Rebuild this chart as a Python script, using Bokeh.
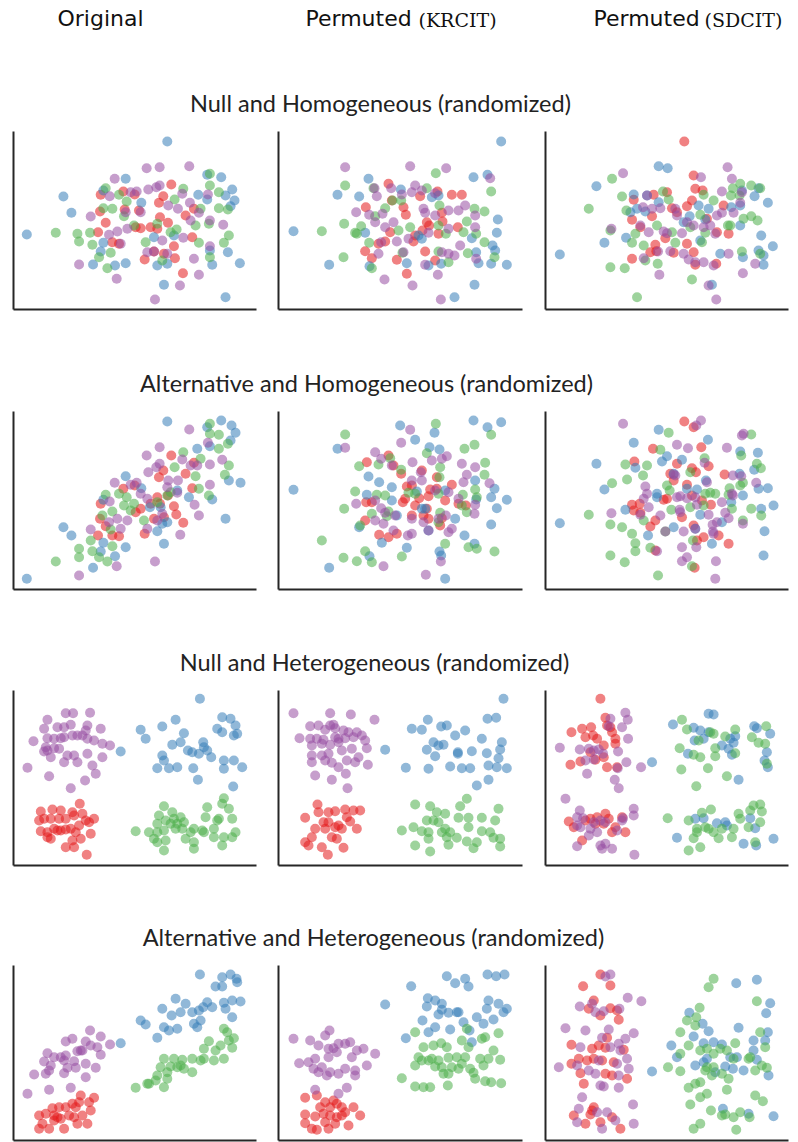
from bokeh.plotting import figure
from bokeh.models import Range1d, Label, FixedTicker
from bokeh.layouts import column, row
from bokeh.embed import file_html
from bokeh.resources import INLINE

# Colour per group (Set1 palette)
COLORS = {"red": "#e41a1c", "blue": "#377eb8", "green": "#4daf4a", "purple": "#984ea3"}
DRAW_ORDER = ["red", "blue", "green", "purple"]

COLUMN_TITLES = ["Original", "Permuted", "Permuted"]
COLUMN_TAGS = ["", "(KRCIT)", "(SDCIT)"]
ROW_TITLES = [
    "Null and Homogeneous (randomized)",
    "Alternative and Homogeneous (randomized)",
    "Null and Heterogeneous (randomized)",
    "Alternative and Heterogeneous (randomized)",
]

# Scatter samples (x, y); y grows downward in these units
NULL_HOM_ORIGINAL = {
    "blue": [(470,48),(345,160),(632,155),(590,148),(158,213),(182,262),(48,327),(563,208),(590,222),(645,210),(665,192),(672,225),(660,242),(392,232),(278,195),(278,352),(270,378),(247,417),(313,420),(345,413),(440,420),(470,415),(460,478),(652,380),(598,375),(605,418),(688,413),(645,515),(430,335),(490,330)],
    "green": [(598,145),(598,180),(625,200),(518,190),(285,188),(325,208),(348,228),(492,222),(570,250),(625,248),(652,252),(595,295),(555,300),(655,330),(640,352),(565,352),(135,322),(200,325),(205,348),(238,322),(245,358),(265,395),(300,382),(290,428),(305,250),(340,272),(440,295),(480,320),(498,312),(405,350),(455,405),(598,395),(278,248),(370,300)],
    "red": [(482,177),(458,212),(445,232),(338,198),(372,207),(270,208),(268,258),(285,292),(262,320),(305,350),(325,355),(375,305),(390,308),(420,305),(440,310),(448,275),(472,292),(525,270),(550,250),(545,335),(490,362),(493,398),(402,402),(460,385),(517,443),(430,378),(342,252),(385,255)],
    "purple": [(408,128),(447,125),(536,122),(312,160),(413,192),(437,185),(447,180),(378,198),(360,200),(297,212),(515,205),(592,207),(473,240),(502,250),(538,232),(565,262),(540,285),(598,285),(638,298),(240,273),(295,328),(320,318),(350,310),(345,260),(390,260),(455,345),(410,380),(430,378),(470,385),(518,337),(550,400),(598,362),(565,448),(508,480),(433,522),(318,460),(205,417),(330,355)],
}

NULL_HOM_KRCIT = {
    "blue": [(678,48),(595,155),(637,148),(280,160),(187,208),(252,213),(377,192),(470,215),(490,210),(668,282),(665,322),(652,360),(660,375),(603,380),(610,413),(648,415),(695,418),(598,478),(538,515),(55,317),(162,418),(283,422),(395,413),(460,420),(498,415),(440,340),(430,330),(590,338),(270,322)],
    "green": [(482,143),(648,198),(210,180),(295,188),(352,225),(378,225),(455,188),(207,295),(140,317),(240,322),(258,302),(245,325),(282,352),(300,272),(330,248),(370,315),(405,305),(382,382),(490,300),(493,240),(512,325),(598,250),(628,258),(575,288),(565,320),(603,325),(628,350),(658,395),(578,383),(520,410),(490,378),(205,395),(290,428)],
    "red": [(340,175),(272,245),(435,212),(487,198),(530,208),(560,208),(385,245),(392,268),(455,290),(462,300),(442,315),(420,330),(415,348),(345,320),(310,355),(330,348),(502,288),(548,305),(490,325),(270,377),(290,398),(365,403),(395,445),(450,378),(480,405),(500,262),(350,225)],
    "purple": [(210,125),(405,122),(513,128),(645,158),(298,188),(305,212),(348,188),(380,207),(420,180),(410,200),(440,195),(480,203),(243,260),(282,268),(322,265),(355,290),(300,290),(330,305),(318,350),(310,385),(365,348),(400,340),(445,250),(450,262),(480,270),(520,255),(570,240),(550,255),(600,270),(600,305),(460,322),(520,310),(555,360),(500,380),(538,390),(520,385),(603,400),(450,418),(488,448),(412,480),(328,462),(497,522),(385,380)],
}

NULL_HOM_SDCIT = {
    "blue": [(355,122),(382,128),(168,182),(280,207),(320,210),(355,230),(270,260),(290,250),(315,258),(475,240),(448,272),(430,290),(505,250),(573,245),(600,240),(643,212),(655,188),(683,232),(600,300),(663,330),(698,362),(655,375),(670,390),(608,395),(670,418),(540,385),(515,478),(480,345),(192,352),(257,337),(58,387),(495,282),(605,195)],
    "green": [(215,160),(145,250),(245,213),(258,255),(368,198),(385,222),(490,208),(520,225),(480,268),(578,188),(600,175),(633,180),(660,188),(572,210),(598,210),(610,280),(633,272),(652,285),(563,300),(570,300),(210,425),(253,428),(210,315),(285,325),(275,352),(310,360),(315,405),(352,415),(350,300),(405,352),(395,320),(455,462),(495,322),(485,350),(605,378),(660,385),(290,515),(450,305)],
    "red": [(432,48),(460,150),(465,190),(487,195),(455,225),(440,242),(550,240),(340,208),(380,200),(395,248),(410,260),(280,223),(275,283),(300,305),(335,272),(375,338),(345,358),(330,380),(400,382),(440,355),(460,380),(465,418),(528,415),(565,325),(530,320),(500,280),(275,400),(348,377)],
    "purple": [(248,143),(482,155),(562,125),(575,160),(545,198),(605,200),(600,232),(320,210),(308,245),(335,250),(360,248),(405,250),(410,270),(440,290),(460,300),(425,323),(370,318),(380,323),(325,320),(300,300),(213,310),(530,270),(545,262),(580,262),(510,300),(525,325),(490,305),(390,377),(430,385),(445,402),(465,410),(490,410),(520,420),(505,480),(528,522),(608,443),(645,415),(565,385),(357,448),(310,398),(353,378)],
}

ALT_HOM_ORIGINAL = {
    "blue": [(470,48),(632,45),(663,60),(675,82),(660,105),(590,65),(598,122),(560,130),(690,232),(655,225),(605,282),(645,340),(345,212),(392,248),(278,283),(418,305),(450,305),(455,355),(440,377),(470,350),(535,275),(460,415),(158,365),(182,390),(278,412),(270,438),(247,487),(313,452),(345,425),(48,520),(500,255)],
    "green": [(598,55),(598,85),(625,88),(652,115),(625,130),(655,180),(643,208),(518,140),(570,160),(555,212),(565,250),(595,270),(492,185),(480,260),(470,270),(285,268),(325,265),(348,275),(340,300),(360,315),(305,318),(275,330),(300,372),(240,405),(205,430),(205,455),(135,468),(245,437),(265,455),(290,468),(305,422),(400,345),(440,290),(370,295)],
    "red": [(482,150),(458,195),(445,215),(525,205),(550,172),(545,248),(338,250),(372,240),(270,295),(268,340),(285,362),(262,390),(305,390),(325,392),(375,320),(390,310),(420,295),(440,275),(448,295),(490,302),(497,327),(518,352),(402,385),(460,335),(430,340),(472,270)],
    "purple": [(408,150),(447,125),(536,72),(592,112),(635,163),(598,177),(515,162),(540,180),(560,180),(437,185),(413,200),(447,175),(312,232),(360,238),(378,232),(297,288),(240,372),(295,350),(320,340),(350,345),(390,265),(410,280),(473,225),(502,225),(470,245),(500,262),(598,238),(552,298),(565,330),(509,388),(455,325),(410,370),(433,468),(318,482),(205,510),(330,370),(440,345)],
}

ALT_HOM_KRCIT = {
    "blue": [(375,60),(478,82),(420,103),(595,45),(637,65),(678,50),(187,130),(463,125),(493,132),(280,213),(312,230),(350,245),(275,268),(350,285),(440,310),(450,310),(425,258),(510,255),(600,225),(603,282),(658,250),(648,275),(665,308),(695,283),(648,357),(252,365),(320,412),(395,427),(493,438),(498,450),(568,390),(598,415),(540,340),(460,375),(162,487),(510,520),(55,253),(283,452),(365,330)],
    "green": [(482,55),(210,87),(648,88),(568,130),(598,118),(455,143),(252,182),(310,177),(345,158),(378,193),(495,185),(493,215),(630,172),(628,208),(600,252),(605,275),(563,268),(575,320),(560,300),(240,258),(305,268),(330,270),(400,262),(420,265),(207,310),(290,325),(340,318),(335,332),(490,265),(490,350),(510,415),(580,425),(605,430),(658,438),(140,405),(205,457),(245,467),(270,437),(290,470),(380,453),(255,360),(495,322)],
    "red": [(340,150),(275,170),(355,180),(378,205),(440,195),(485,215),(530,238),(395,243),(410,240),(390,280),(432,278),(460,272),(465,252),(485,250),(510,285),(550,295),(572,300),(273,290),(290,290),(383,290),(420,300),(410,330),(455,310),(460,340),(445,330),(270,345),(312,388),(340,395),(365,385),(495,360),(500,338)],
    "purple": [(405,73),(378,112),(210,127),(300,140),(318,160),(350,180),(412,170),(437,200),(470,165),(500,160),(515,152),(560,175),(600,185),(575,208),(565,230),(440,225),(410,225),(480,255),(520,260),(550,280),(600,298),(598,325),(643,233),(243,295),(300,285),(318,308),(330,322),(300,345),(360,330),(325,355),(410,340),(445,350),(490,340),(460,375),(530,370),(520,380),(398,390),(410,385),(355,375),(325,482),(452,508),(497,468),(512,330)],
}

ALT_HOM_SDCIT = {
    "blue": [(355,73),(280,112),(503,103),(168,175),(285,187),(365,168),(380,152),(425,163),(600,138),(653,142),(642,193),(598,205),(497,225),(470,252),(440,250),(350,265),(350,275),(255,313),(400,365),(323,390),(465,370),(480,328),(545,350),(573,290),(608,270),(655,250),(683,248),(700,300),(663,310),(673,377),(670,450),(515,415),(192,252),(58,353),(400,205)],
    "green": [(385,82),(633,87),(603,150),(650,175),(662,188),(360,133),(255,177),(320,180),(308,210),(260,222),(215,233),(450,200),(493,158),(380,240),(388,255),(510,262),(525,265),(495,265),(568,248),(565,268),(600,240),(608,232),(575,310),(633,310),(663,330),(608,345),(145,328),(210,357),(245,365),(275,385),(285,413),(285,437),(210,450),(253,470),(330,427),(375,378),(393,313),(450,305),(490,300),(458,405),(455,482),(353,510),(310,345)],
    "red": [(432,48),(460,65),(338,130),(282,168),(483,125),(410,175),(390,205),(400,225),(455,188),(467,200),(505,182),(553,207),(440,238),(380,280),(370,283),(455,270),(485,285),(512,298),(275,298),(298,295),(280,315),(425,335),(345,345),(330,363),(460,360),(490,395),(535,390),(565,415),(345,435),(463,487),(470,405),(300,322)],
    "purple": [(248,55),(482,45),(468,60),(410,118),(443,128),(560,127),(610,85),(605,90),(493,172),(400,207),(405,210),(315,243),(320,265),(310,280),(325,305),(420,272),(410,275),(440,278),(465,275),(500,230),(545,290),(578,210),(603,212),(648,232),(578,270),(575,265),(555,322),(565,338),(608,355),(213,323),(300,328),(360,330),(418,313),(420,320),(470,298),(505,328),(517,358),(530,350),(430,378),(465,370),(518,378),(520,385),(350,437),(425,425),(468,425),(440,455),(425,467),(527,467),(525,520),(375,378)],
}

NULL_HET_ORIGINAL = {
    "purple": [(165,83),(187,83),(238,82),(110,103),(100,130),(140,125),(160,125),(180,118),(230,120),(270,130),(68,167),(110,158),(130,160),(150,158),(160,155),(185,150),(200,150),(215,150),(225,135),(250,165),(275,175),(298,180),(105,185),(110,195),(130,188),(145,190),(120,215),(170,210),(190,210),(160,230),(200,230),(230,205),(275,215),(245,240),(50,247),(255,265),(115,272),(223,285),(180,308),(230,160),(100,198)],
    "blue": [(568,40),(495,103),(455,123),(390,133),(405,160),(520,143),(485,178),(510,170),(455,210),(460,225),(440,248),(475,248),(500,245),(532,195),(545,200),(565,205),(580,185),(590,195),(578,170),(602,215),(548,248),(562,283),(635,95),(660,100),(675,120),(680,145),(620,130),(635,140),(670,150),(640,225),(670,225),(695,245),(640,250),(668,303),(330,198)],
    "red": [(207,355),(185,380),(125,372),(90,378),(150,375),(85,405),(100,400),(120,400),(145,400),(165,400),(190,390),(215,385),(225,405),(250,400),(235,410),(90,437),(110,440),(130,430),(150,435),(165,432),(180,430),(195,440),(205,420),(120,460),(110,455),(185,465),(210,460),(240,445),(165,485),(190,485),(228,508),(140,435)],
    "green": [(640,338),(635,355),(655,370),(590,365),(460,362),(485,380),(445,390),(465,405),(490,400),(510,395),(520,410),(500,415),(480,415),(440,415),(415,440),(440,440),(460,435),(495,430),(515,430),(375,437),(430,460),(465,465),(440,470),(460,495),(525,460),(550,470),(550,490),(575,435),(580,440),(585,395),(610,430),(625,400),(620,405),(610,455),(640,455),(665,400),(675,440),(665,455),(635,480),(550,430),(540,440)],
}

NULL_HET_KRCIT = {
    "purple": [(55,83),(165,83),(227,87),(298,103),(105,122),(130,120),(165,120),(175,118),(180,128),(150,133),(205,135),(220,140),(245,140),(260,150),(73,158),(105,160),(125,160),(145,163),(180,155),(190,160),(210,158),(235,155),(270,165),(110,180),(140,175),(165,178),(190,170),(275,188),(230,190),(110,210),(140,210),(160,205),(200,195),(250,215),(215,225),(240,230),(110,230),(150,225),(170,232),(190,245),(278,238),(212,265),(120,270),(170,283),(217,308)],
    "blue": [(685,40),(637,100),(663,97),(458,103),(410,130),(440,133),(498,123),(515,120),(570,135),(540,150),(475,170),(505,178),(490,180),(620,160),(680,170),(455,193),(480,212),(548,205),(590,197),(635,203),(675,192),(670,218),(665,245),(695,248),(640,240),(585,248),(560,248),(525,243),(460,250),(392,247),(605,300),(640,283),(330,193),(548,200)],
    "red": [(127,357),(90,397),(130,380),(160,380),(180,377),(210,372),(235,375),(255,375),(145,410),(160,410),(215,395),(225,408),(120,430),(150,430),(180,425),(200,430),(245,430),(90,470),(100,480),(110,455),(170,455),(185,460),(140,485),(205,487),(158,508),(190,420)],
    "green": [(575,340),(420,357),(465,362),(555,362),(670,370),(485,380),(510,385),(550,397),(580,397),(620,397),(660,405),(455,405),(475,405),(490,410),(415,425),(440,437),(460,440),(510,430),(580,425),(620,437),(645,440),(380,435),(500,440),(525,440),(460,460),(515,455),(545,457),(575,468),(605,470),(655,457),(675,460),(420,480),(465,498),(520,478),(595,488),(675,483)],
}

NULL_HET_SDCIT = {
    "red": [(180,40),(195,97),(210,125),(200,120),(93,140),(125,130),(152,125),(135,155),(158,150),(170,160),(215,140),(225,160),(225,175),(150,200),(190,180),(190,215),(120,228),(90,238),(200,245),(165,223),(230,245),(85,408),(100,425),(125,465),(135,405),(150,400),(170,395),(195,385),(205,400),(225,425),(245,395),(255,440),(215,440),(190,415),(165,415)],
    "purple": [(255,82),(210,100),(262,103),(245,125),(205,122),(263,160),(58,187),(118,192),(145,190),(160,195),(175,192),(188,205),(135,225),(160,222),(233,198),(258,230),(232,248),(140,265),(223,283),(235,308),(302,245),(75,340),(118,375),(128,398),(110,395),(110,420),(120,425),(150,430),(170,440),(180,405),(160,410),(195,410),(230,435),(245,405),(248,398),(280,370),(280,390),(195,475),(215,490),(180,480),(185,490),(110,482),(282,508),(145,450)],
    "blue": [(505,85),(520,87),(398,117),(460,127),(480,135),(505,140),(463,165),(490,160),(545,180),(570,160),(585,152),(580,172),(575,208),(565,190),(443,205),(642,122),(650,128),(690,145),(680,200),(673,225),(683,245),(595,283),(335,230),(465,400),(490,398),(530,413),(555,410),(560,420),(630,398),(645,428),(410,457),(610,475),(648,480),(700,460)],
    "green": [(425,103),(440,132),(475,165),(510,140),(520,145),(555,153),(585,132),(585,203),(635,155),(655,172),(678,122),(675,175),(418,188),(460,208),(480,215),(525,188),(525,212),(423,252),(503,248),(560,272),(468,302),(680,235),(382,398),(445,405),(485,382),(512,372),(595,385),(600,400),(630,375),(640,360),(660,357),(665,378),(660,410),(470,430),(495,425),(505,430),(520,440),(545,430),(580,430),(625,425),(535,458),(575,455),(460,458),(445,495),(480,485),(645,470),(470,440)],
}

ALT_HET_ORIGINAL = {
    "blue": [(568,42),(635,50),(660,42),(678,55),(680,65),(615,78),(635,78),(495,115),(455,145),(483,165),(510,155),(525,130),(545,155),(565,150),(578,140),(590,125),(605,140),(640,127),(665,120),(690,123),(665,170),(645,145),(570,180),(560,200),(390,180),(405,192),(460,200),(475,210),(500,205),(440,232),(550,190),(330,248)],
    "purple": [(238,210),(270,228),(165,243),(185,235),(225,243),(240,255),(210,270),(260,260),(298,252),(270,283),(110,278),(130,290),(150,290),(165,285),(200,272),(215,270),(100,303),(120,315),(160,300),(190,302),(195,322),(170,322),(225,310),(255,322),(70,342),(105,340),(115,330),(160,338),(225,350),(115,388),(180,382),(50,400)],
    "red": [(210,405),(205,425),(250,412),(185,430),(235,425),(125,443),(145,440),(165,440),(195,440),(240,450),(85,465),(105,460),(130,465),(150,475),(175,465),(190,470),(215,465),(95,490),(85,505),(115,505),(130,480),(160,505),(200,490),(230,490),(140,470)],
    "green": [(640,205),(650,215),(670,233),(655,240),(595,242),(630,255),(580,265),(615,270),(665,262),(545,295),(580,295),(610,300),(640,295),(460,295),(490,295),(515,298),(510,315),(480,318),(450,320),(470,335),(500,320),(520,325),(545,335),(440,345),(470,355),(410,370),(435,360),(460,380),(375,382),(415,370),(570,300)],
}

ALT_HET_KRCIT = {
    "blue": [(637,42),(663,47),(688,42),(515,47),(540,68),(570,55),(580,78),(408,77),(330,132),(458,113),(480,120),(500,130),(455,138),(490,162),(520,157),(545,155),(550,155),(500,148),(640,120),(670,130),(685,155),(695,145),(635,145),(605,170),(625,190),(655,177),(442,180),(480,200),(460,215),(525,207),(565,185),(583,210),(590,245),(392,233)],
    "green": [(420,215),(445,260),(475,255),(498,248),(515,260),(560,240),(580,260),(575,205),(620,235),(630,230),(670,218),(655,270),(570,290),(545,290),(470,295),(460,300),(490,300),(520,292),(420,315),(440,300),(480,318),(500,320),(430,290),(530,320),(550,325),(560,310),(585,325),(615,295),(640,295),(675,298),(625,315),(380,353),(420,378),(445,380),(465,380),(505,340),(518,375),(595,337),(630,362),(648,365),(678,368),(600,355),(520,340)],
    "purple": [(163,210),(150,225),(55,235),(105,240),(130,255),(160,265),(175,263),(190,250),(210,250),(225,245),(245,270),(265,265),(300,280),(230,290),(185,275),(160,290),(120,295),(100,305),(72,308),(115,325),(140,320),(165,335),(190,340),(210,325),(240,330),(240,345),(275,315),(155,345),(130,335),(120,388),(215,382),(190,400)],
    "red": [(90,412),(125,405),(150,425),(165,440),(185,430),(200,440),(210,455),(235,440),(255,465),(90,462),(120,468),(145,460),(165,465),(185,470),(200,465),(220,495),(90,488),(110,505),(125,508),(150,485),(180,490),(160,505),(135,440),(175,420)],
}

ALT_HET_SDCIT = {
    "red": [(180,42),(128,77),(210,75),(160,120),(145,145),(180,165),(210,143),(230,150),(235,178),(93,253),(155,265),(175,255),(195,262),(250,268),(93,310),(115,295),(140,300),(160,295),(185,300),(220,305),(120,338),(195,340),(215,345),(260,355),(130,370),(160,440),(155,450),(100,465),(150,462),(180,485),(215,470),(240,505),(135,490),(200,232)],
    "purple": [(210,42),(195,48),(262,112),(303,122),(118,138),(155,130),(165,155),(190,152),(237,145),(75,203),(135,210),(205,207),(280,218),(255,235),(185,232),(235,250),(120,260),(210,260),(260,295),(265,325),(230,310),(175,300),(145,330),(165,340),(110,315),(55,320),(235,345),(180,375),(190,378),(235,382),(125,410),(278,432),(115,445),(170,455),(200,455),(110,485),(225,480),(185,505),(280,490),(240,270)],
    "blue": [(588,68),(650,58),(690,128),(678,158),(447,157),(487,190),(505,212),(595,202),(460,228),(393,255),(490,248),(520,245),(545,252),(640,240),(683,215),(675,240),(410,290),(465,315),(490,305),(500,295),(555,318),(570,290),(590,290),(610,330),(578,325),(650,298),(685,345),(525,335),(335,333),(548,445),(625,460),(700,467),(640,270)],
    "green": [(520,55),(505,80),(650,122),(478,142),(440,180),(465,195),(420,215),(468,170),(500,265),(480,270),(445,255),(420,280),(383,320),(420,332),(500,320),(520,280),(540,265),(560,270),(585,248),(580,295),(630,290),(625,295),(660,215),(675,260),(665,315),(680,322),(645,330),(520,320),(495,330),(515,345),(545,340),(565,355),(480,365),(445,382),(465,370),(560,388),(500,400),(480,410),(450,432),(512,450),(555,462),(600,455),(580,470),(628,470),(645,405),(668,422),(460,505),(480,490),(588,508),(545,465)],
}

PANELS = [
    [NULL_HOM_ORIGINAL, NULL_HOM_KRCIT, NULL_HOM_SDCIT],
    [ALT_HOM_ORIGINAL, ALT_HOM_KRCIT, ALT_HOM_SDCIT],
    [NULL_HET_ORIGINAL, NULL_HET_KRCIT, NULL_HET_SDCIT],
    [ALT_HET_ORIGINAL, ALT_HET_KRCIT, ALT_HET_SDCIT],
]

# Axis extents for each column (x) and each row (y, top value smaller)
X_EXTENTS = [(8, 738), (10, 742), (15, 745)]
Y_EXTENTS = [(552, 18), (552, 18), (540, 15), (540, 15)]

# Page geometry
PAGE_W = 798
COL_GEOM = [(267, 13, 11), (267, 11, 12), (264, 11, 10)]  # width, left border, right border
ROW_FRAME_H = [178, 178, 175, 175]
BAND_H = [131, 100, 99, 98]
ROW_TITLE_X = [380, 366, 374, 373]
SPINE = "#262626"
HEAD_FONT = "DejaVu Sans"
TAG_FONT = "DejaVu Serif"
TITLE_FONT = "Lato"
MARKER_SIZE = 10


def scatter_panel(data, col, r):
    width, bl, br = COL_GEOM[col]
    p = figure(width=width, height=ROW_FRAME_H[r] + 2, title=None,
               output_backend="svg", toolbar_location=None,
               x_range=Range1d(*X_EXTENTS[col]), y_range=Range1d(*Y_EXTENTS[r]),
               min_border_left=bl, min_border_right=br,
               min_border_top=0, min_border_bottom=2)
    p.grid.visible = False
    p.outline_line_color = None
    p.background_fill_color = "white"
    p.border_fill_color = "white"
    for ax in p.axis:
        ax.ticker = FixedTicker(ticks=[])
        ax.major_tick_in = 0
        ax.major_tick_out = 0
        ax.minor_tick_in = 0
        ax.minor_tick_out = 0
        ax.major_label_standoff = 0
        ax.axis_line_color = SPINE
        ax.axis_line_width = 2
    for name in DRAW_ORDER:
        pts = data.get(name, [])
        p.scatter(x=[pt[0] for pt in pts], y=[pt[1] for pt in pts], size=MARKER_SIZE,
                  fill_color=COLORS[name], fill_alpha=0.55, line_color=None)
    return p


def text_band(height, labels):
    p = figure(width=PAGE_W, height=height, title=None,
               output_backend="svg", toolbar_location=None,
               x_range=Range1d(0, 1), y_range=Range1d(0, 1),
               x_axis_location=None, y_axis_location=None, min_border=0)
    p.grid.visible = False
    p.outline_line_color = None
    for lab in labels:
        p.add_layout(lab)
    return p


def label(x, y, text, font, size, align="center", color="#111111"):
    return Label(x=x, y=y, x_units="screen", y_units="screen", text=text,
                 text_font=font, text_font_size=size, text_align=align,
                 text_baseline="middle", text_color=color)


def row_title(r):
    return label(ROW_TITLE_X[r], 29, ROW_TITLES[r], TITLE_FONT, "23.5px", color="#222222")


header_labels = [
    label(100, BAND_H[0] - 18, COLUMN_TITLES[0], HEAD_FONT, "22px"),
    label(305, BAND_H[0] - 18, COLUMN_TITLES[1], HEAD_FONT, "22px", align="left"),
    label(418, BAND_H[0] - 19, COLUMN_TAGS[1], TAG_FONT, "19px", align="left"),
    label(593, BAND_H[0] - 18, COLUMN_TITLES[2], HEAD_FONT, "22px", align="left"),
    label(704, BAND_H[0] - 19, COLUMN_TAGS[2], TAG_FONT, "19px", align="left"),
]

children = []
for r in range(4):
    labels = [row_title(r)]
    if r == 0:
        labels = header_labels + labels
    children.append(text_band(BAND_H[r], labels))
    children.append(row(*[scatter_panel(PANELS[r][c], c, r) for c in range(3)], spacing=0))

page = column(*children, spacing=0)

open("out.html", "w").write(file_html(page, INLINE))
